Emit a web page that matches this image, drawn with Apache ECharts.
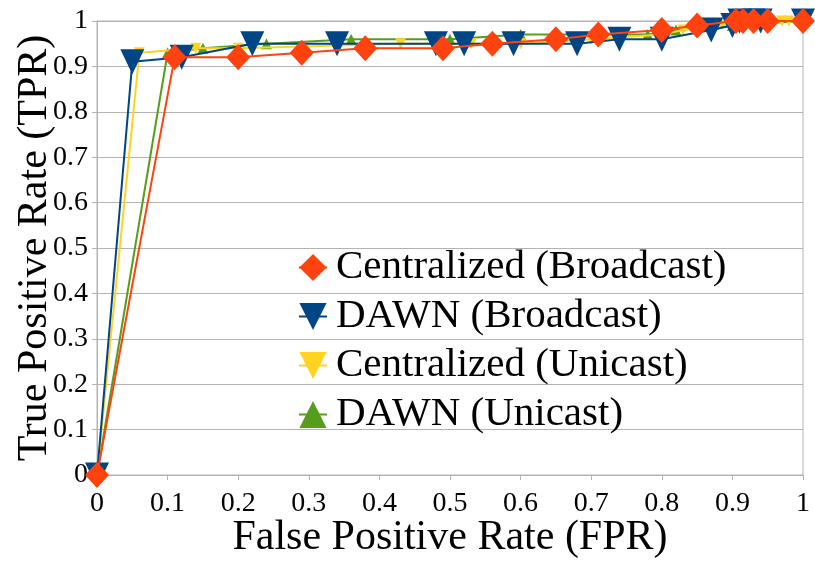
<!DOCTYPE html>
<html>
<head>
<meta charset="utf-8">
<script src="https://cdn.jsdelivr.net/npm/echarts@6/dist/echarts.min.js"></script>
<style>html,body{margin:0;padding:0;background:#fff;}#c{width:815px;height:561px;}</style>
</head>
<body>
<div id="c"></div>
<script>
var seriesNames = ['Centralized (Broadcast)', 'DAWN (Broadcast)', 'Centralized (Unicast)', 'DAWN (Unicast)'];

var cbX = [0, 0.11, 0.2, 0.29, 0.38, 0.49, 0.56, 0.65, 0.71, 0.8, 0.85, 0.905, 0.915, 0.93, 0.95, 1.0];
var cbY = [0, 0.92, 0.92, 0.93, 0.94, 0.94, 0.95, 0.96, 0.97, 0.98, 0.99, 1, 1, 1, 1, 1];

var dbX = [0, 0.05, 0.12, 0.22, 0.34, 0.48, 0.52, 0.59, 0.68, 0.74, 0.8, 0.87, 0.9, 0.91, 0.93, 0.94, 1.0];
var dbY = [0, 0.91, 0.92, 0.95, 0.95, 0.95, 0.95, 0.95, 0.95, 0.96, 0.96, 0.98, 0.99, 1, 1, 1, 1];

var cuX = [0, 0.06, 0.14, 0.2, 0.43, 0.53, 0.6, 0.7, 0.8, 0.83, 0.88, 0.97, 0.98, 1.0];
var cuY = [0, 0.93, 0.94, 0.94, 0.95, 0.95, 0.95, 0.96, 0.97, 0.98, 0.99, 1, 1, 1];

var duX = [0, 0.1, 0.15, 0.24, 0.36, 0.5, 0.6, 0.78, 0.82, 0.9, 1.0];
var duY = [0, 0.93, 0.94, 0.95, 0.96, 0.96, 0.97, 0.97, 0.98, 0.99, 1];

var tickLabels = ['0', '0.1', '0.2', '0.3', '0.4', '0.5', '0.6', '0.7', '0.8', '0.9', '1'];

function pairs(xs, ys) { return xs.map(function (x, i) { return [x, ys[i]]; }); }

var FONT = 'Liberation Serif';
var chart = echarts.init(document.getElementById('c'), null, { renderer: 'canvas' });

function axisCommon(name, gap) {
  return {
    type: 'value', min: 0, max: 1, interval: 0.1,
    name: name, nameLocation: 'middle', nameGap: gap, nameMoveOverlap: false,
    nameTextStyle: { fontFamily: FONT, fontSize: 42, color: '#000' },
    axisLine: { show: true, lineStyle: { color: '#b3b3b3', width: 1 } },
    axisTick: { show: true, length: 5, lineStyle: { color: '#b3b3b3' } },
    axisLabel: {
      fontFamily: FONT, fontSize: 28, color: '#000',
      formatter: function (v) { return tickLabels[Math.round(v * 10)]; }
    }
  };
}

var xAxis = axisCommon('False Positive Rate (FPR)', 42);
xAxis.splitLine = { show: false };
xAxis.axisLabel.margin = 15;
var yAxis = axisCommon('True Positive Rate (TPR)', 41);
yAxis.splitLine = { show: true, lineStyle: { color: '#b3b3b3', width: 1 } };
yAxis.axisLabel.margin = 9;

function mkSeries(name, data, color, symbol, size, rotate, z) {
  return {
    name: name, type: 'line', data: data, z: z,
    symbol: symbol, symbolSize: size, symbolRotate: rotate, showSymbol: true,
    lineStyle: { color: color, width: 2 },
    itemStyle: { color: color, borderWidth: 0 },
    animation: false
  };
}

chart.setOption({
  backgroundColor: '#fff',
  animation: false,
  textStyle: { fontFamily: FONT },
  grid: { left: 97, right: 12, top: 21, bottom: 86, containLabel: false, outerBoundsMode: 'none',
          show: true, borderColor: '#b3b3b3', borderWidth: 1, backgroundColor: 'transparent' },
  xAxis: xAxis,
  yAxis: yAxis,
  legend: {
    orient: 'vertical', left: 293, top: 242,
    itemWidth: 28, itemHeight: 34, itemGap: 8,
    textStyle: { fontFamily: FONT, fontSize: 41, color: '#000', padding: [0, 0, 0, 4] },
    data: seriesNames
  },
  series: [
    mkSeries(seriesNames[3], pairs(duX, duY), '#579d1c', 'triangle', 11, 0, 2),
    mkSeries(seriesNames[2], pairs(cuX, cuY), '#ffd320', 'triangle', 11, 180, 3),
    mkSeries(seriesNames[1], pairs(dbX, dbY), '#004586', 'triangle', [24, 25], 180, 4),
    mkSeries(seriesNames[0], pairs(cbX, cbY), '#ff420e', 'diamond', [24, 26], 0, 5)
  ]
});
</script>
</body>
</html>
